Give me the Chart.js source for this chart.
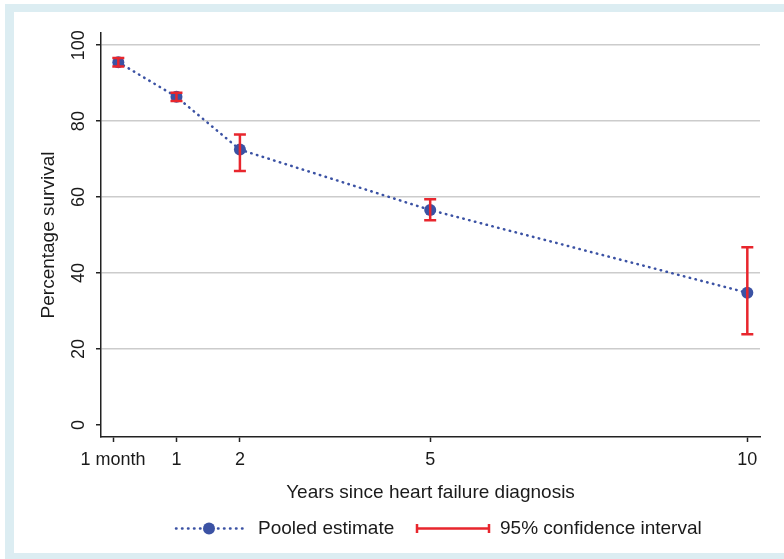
<!DOCTYPE html>
<html>
<head>
<meta charset="utf-8">
<script src="https://cdn.jsdelivr.net/npm/chart.js@4"></script>
<style>
  html, body { margin: 0; padding: 0; background: #fff; }
  #frame { position: absolute; left: 5px; top: 4px; width: 779px; height: 555px; background: #dcedf2; }
  #panel { position: absolute; left: 14px; top: 12px; width: 770px; height: 541px; background: #fff; }
  #chart { position: absolute; left: 0; top: 0; }
</style>
</head>
<body>
<div id="frame"></div>
<div id="panel"></div>
<canvas id="chart" width="784" height="559"></canvas>
<script>
// survival data
const yearsSinceDiagnosis = [0.083, 1, 2, 5, 10];
const pooledEstimate = [95.5, 86.4, 72.5, 56.6, 34.8];
const ciLower = [94.4, 85.3, 66.9, 53.9, 23.9];
const ciUpper = [96.6, 87.5, 76.5, 59.4, 46.8];

const xTickValues = [0, 1, 2, 5, 10];
const xTickLabels = ['1 month', '1', '2', '5', '10'];
const yTickValues = [0, 20, 40, 60, 80, 100];
const legendLabels = ['Pooled estimate', '95% confidence interval'];

const blue = '#3b52a4';
const red = '#e8262d';
const textColor = '#1a1a1a';
const fontFamily = '"Liberation Sans", Arial, sans-serif';

Chart.defaults.font.family = fontFamily;
Chart.defaults.font.size = 18;
Chart.defaults.color = textColor;

const errorBars = {
  id: 'errorBars',
  afterDatasetsDraw(chart) {
    const { ctx, scales: { x, y } } = chart;
    ctx.save();
    ctx.strokeStyle = red;
    ctx.lineWidth = 2.5;
    yearsSinceDiagnosis.forEach((yr, i) => {
      const px = x.getPixelForValue(yr);
      const top = y.getPixelForValue(ciUpper[i]);
      const bot = y.getPixelForValue(ciLower[i]);
      ctx.beginPath();
      ctx.moveTo(px, top); ctx.lineTo(px, bot);
      ctx.moveTo(px - 6, top); ctx.lineTo(px + 6, top);
      ctx.moveTo(px - 6, bot); ctx.lineTo(px + 6, bot);
      ctx.stroke();
    });
    ctx.restore();
  }
};

const bottomLegend = {
  id: 'bottomLegend',
  afterDraw(chart) {
    const ctx = chart.ctx;
    const ly = 528.5;
    ctx.save();
    // pooled estimate symbol
    ctx.strokeStyle = blue;
    ctx.lineWidth = 2.5;
    ctx.lineCap = 'round';
    ctx.setLineDash([0.5, 5.5]);
    ctx.beginPath();
    ctx.moveTo(176, ly); ctx.lineTo(243, ly);
    ctx.stroke();
    ctx.setLineDash([]);
    ctx.fillStyle = blue;
    ctx.beginPath();
    ctx.arc(209, ly, 6, 0, Math.PI * 2);
    ctx.fill();
    // CI symbol
    ctx.strokeStyle = red;
    ctx.lineWidth = 2.5;
    ctx.lineCap = 'butt';
    ctx.beginPath();
    ctx.moveTo(416, ly); ctx.lineTo(490, ly);
    ctx.moveTo(417, ly - 4.5); ctx.lineTo(417, ly + 4.5);
    ctx.moveTo(489, ly - 4.5); ctx.lineTo(489, ly + 4.5);
    ctx.stroke();
    ctx.fillStyle = textColor;
    ctx.font = '19px ' + fontFamily;
    ctx.textBaseline = 'middle';
    ctx.fillText(legendLabels[0], 258, ly);
    ctx.fillText(legendLabels[1], 500, ly);
    ctx.restore();
  }
};

new Chart(document.getElementById('chart'), {
  type: 'line',
  data: {
    datasets: [{
      label: legendLabels[0],
      data: yearsSinceDiagnosis.map((v, i) => ({ x: v, y: pooledEstimate[i] })),
      borderColor: blue,
      borderWidth: 2.5,
      borderDash: [0.5, 5.5],
      borderCapStyle: 'round',
      backgroundColor: blue,
      pointRadius: 6,
      pointBorderWidth: 0,
      pointBackgroundColor: blue,
      tension: 0
    }]
  },
  options: {
    responsive: false,
    devicePixelRatio: 1,
    animation: false,
    layout: { padding: { left: 0, top: 33, right: 24, bottom: 55 } },
    plugins: {
      legend: { display: false },
      tooltip: { enabled: false }
    },
    scales: {
      x: {
        type: 'linear',
        min: -0.19,
        max: 10.2,
        afterBuildTicks: (scale) => { scale.ticks = xTickValues.map(v => ({ value: v })); },
        afterFit: (scale) => { scale.height = 67; },
        ticks: {
          autoSkip: false,
          maxRotation: 0,
          padding: 7,
          callback: (value) => xTickLabels[xTickValues.indexOf(value)]
        },
        grid: { color: 'rgba(0,0,0,0)', tickColor: '#222', tickLength: 5, tickWidth: 1.5 },
        border: { color: '#222', width: 1.5 },
        title: {
          display: true,
          text: 'Years since heart failure diagnosis',
          font: { size: 19 },
          padding: 0
        }
      },
      y: {
        type: 'linear',
        min: -3.16,
        max: 103.2,
        afterBuildTicks: (scale) => { scale.ticks = yTickValues.map(v => ({ value: v })); },
        afterFit: (scale) => { scale.width = 101; },
        ticks: {
          autoSkip: false,
          minRotation: 90,
          maxRotation: 90,
          crossAlign: 'center',
          padding: 2
        },
        grid: {
          color: (c) => (c.tick && c.tick.value === 0 ? 'rgba(0,0,0,0)' : '#cccccc'),
          lineWidth: 1.5,
          tickColor: '#222',
          tickLength: 5,
          tickWidth: 1.5
        },
        border: { color: '#222', width: 1.5 },
        title: {
          display: true,
          text: 'Percentage survival',
          font: { size: 19 },
          padding: { top: 37, bottom: 0 }
        }
      }
    }
  },
  plugins: [errorBars, bottomLegend]
});
</script>
</body>
</html>
